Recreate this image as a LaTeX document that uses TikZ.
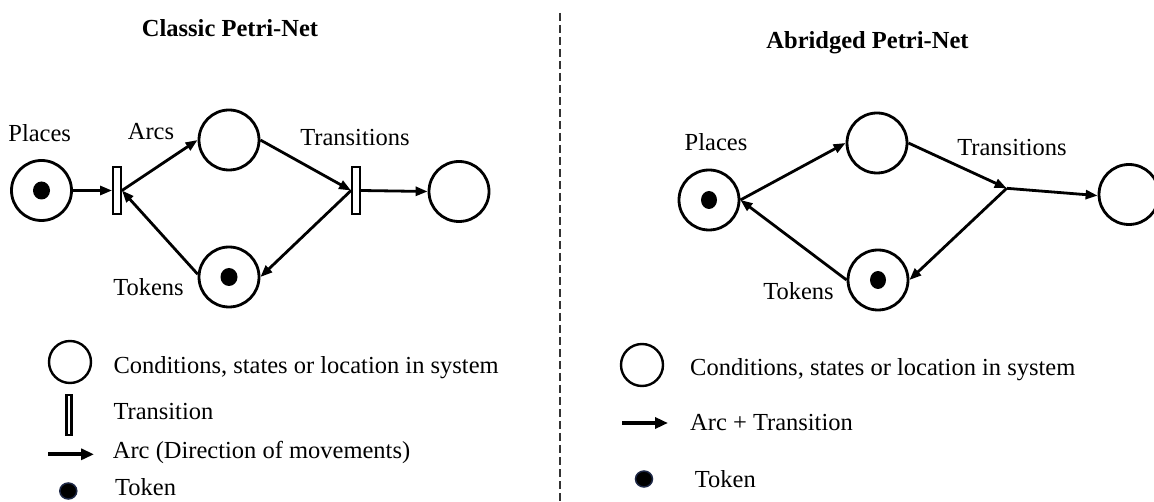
\documentclass[tikz,border=0pt]{standalone}
\usepackage{fontspec}
\setmainfont{Liberation Serif}
\usetikzlibrary{arrows.meta}

\definecolor{tokenrim}{RGB}{30,40,70}

\tikzset{
  place/.style={circle, draw, line width=2.8pt, minimum size=60pt, inner sep=0pt},
  keyplace/.style={circle, draw, line width=2.4pt, minimum size=42pt, inner sep=0pt},
  trans/.style={rectangle, draw, fill=white, line width=2.4pt,
                minimum width=7.5pt, minimum height=46.5pt, inner sep=0pt},
  keytrans/.style={rectangle, draw, fill=white, line width=2.2pt,
                minimum width=5pt, minimum height=40pt, inner sep=0pt},
  arc/.style={line width=2.8pt, -{Triangle[length=12pt,width=9pt]}},
  keyarc/.style={line width=4pt, -{Triangle[length=13pt,width=11pt]}},
  txt/.style={font=\fontsize{24.5}{29}\selectfont, inner sep=0pt},
  ttl/.style={font=\fontsize{24.5}{29}\selectfont\bfseries, inner sep=0pt, anchor=base},
  lbl/.style={txt, anchor=base},
  key/.style={txt, anchor=base west},
  token/.style={fill=black},
}

\begin{document}
\begin{tikzpicture}[x=1pt, y=-1pt]
  \clip (0,0) rectangle (1154,502);
  \fill[white] (0,0) rectangle (1154,502);

  % divider between the two halves
  \draw[line width=1.4pt, dash pattern=on 8pt off 4pt, black!80] (560,13) -- (560,502);

  % ---------------- classic net ----------------
  \node[ttl] (ctitle) at (230,36.5) {Classic Petri-Net};

  \node[place] (p1) at (41.5,190.5) {};
  \node[place] (p2) at (229,140) {};
  \node[place] (p3) at (459,191.5) {};
  \node[place] (p4) at (229,277) {};
  \node[trans] (t1) at (117,190.5) {};
  \node[trans] (t2) at (356,190.5) {};

  \fill[token] (p1.center) ellipse [x radius=8.5pt, y radius=9pt];
  \fill[token] (p4.center) ellipse [x radius=8.5pt, y radius=9pt];

  \draw[arc] (p1.east) -- (t1.west);
  \draw[arc] (t1.east) -- (p2.west);
  \draw[arc] (p2.east) -- (t2.west);
  \draw[arc] (t2.east) -- (p3.west);
  \draw[arc] (t2.west) -- (p4.east);
  \draw[arc] (p4.175) -- (t1.east);

  \node[lbl] (cplaces) at (39.7,141.5) {Places};
  \node[lbl] (carcs) at (151,140) {Arcs};
  \node[lbl] (ctrans) at (355,146) {Transitions};
  \node[lbl] (ctokens) at (148.5,295.5) {Tokens};

  % classic key
  \node[keyplace] (kc1) at (70,362) {};
  \node[key] (kc1t) at (113.3,373.3) {Conditions, states or location in system};
  \node[keytrans] (kc2) at (69,415) {};
  \node[key] (kc2t) at (113.3,419.3) {Transition};
  \coordinate (kc3a) at (48,454.3);
  \coordinate (kc3b) at (94,454.3);
  \draw[keyarc] (kc3a) -- (kc3b);
  \node[key] (kc3t) at (112.7,458.3) {Arc (Direction of movements)};
  \filldraw[fill=black, draw=tokenrim, line width=1.5pt] (68.3,491) ellipse [x radius=8.5pt, y radius=8pt];
  \node[key] (kc4t) at (115,495) {Token};

  % ---------------- abridged net ----------------
  \node[ttl] (atitle) at (867.5,48.5) {Abridged Petri-Net};

  \node[place] (q1) at (709,200) {};
  \node[place] (q2) at (877,143) {};
  \node[place] (q3) at (1129,194.5) {};
  \node[place] (q4) at (878,280) {};
  \coordinate (j) at (1006.7,188.3);

  \fill[token] (q1.center) ellipse [x radius=8pt, y radius=9pt];
  \fill[token] (q4.center) ellipse [x radius=8pt, y radius=9pt];

  \draw[arc] (q1.east) -- (q2.west);
  \draw[arc] (q2.east) -- (j);
  \draw[arc] (j) -- (q3.182);
  \draw[arc] (j) -- (q4.east);
  \draw[arc] (q4.west) -- (q1.east);

  \node[lbl] (aplaces) at (716,151) {Places};
  \node[lbl] (atrans) at (1012,155.5) {Transitions};
  \node[lbl] (atokens) at (798.5,300) {Tokens};

  % abridged key
  \node[keyplace] (ka1) at (642,365) {};
  \node[key] (ka1t) at (690,376) {Conditions, states or location in system};
  \coordinate (ka2a) at (622,423);
  \coordinate (ka2b) at (668,423);
  \draw[keyarc] (ka2a) -- (ka2b);
  \node[key] (ka2t) at (690,430.5) {Arc + Transition};
  \filldraw[fill=black, draw=tokenrim, line width=1.5pt] (644,479) ellipse [x radius=8.5pt, y radius=8pt];
  \node[key] (ka3t) at (694.7,487) {Token};
\end{tikzpicture}
\end{document}
